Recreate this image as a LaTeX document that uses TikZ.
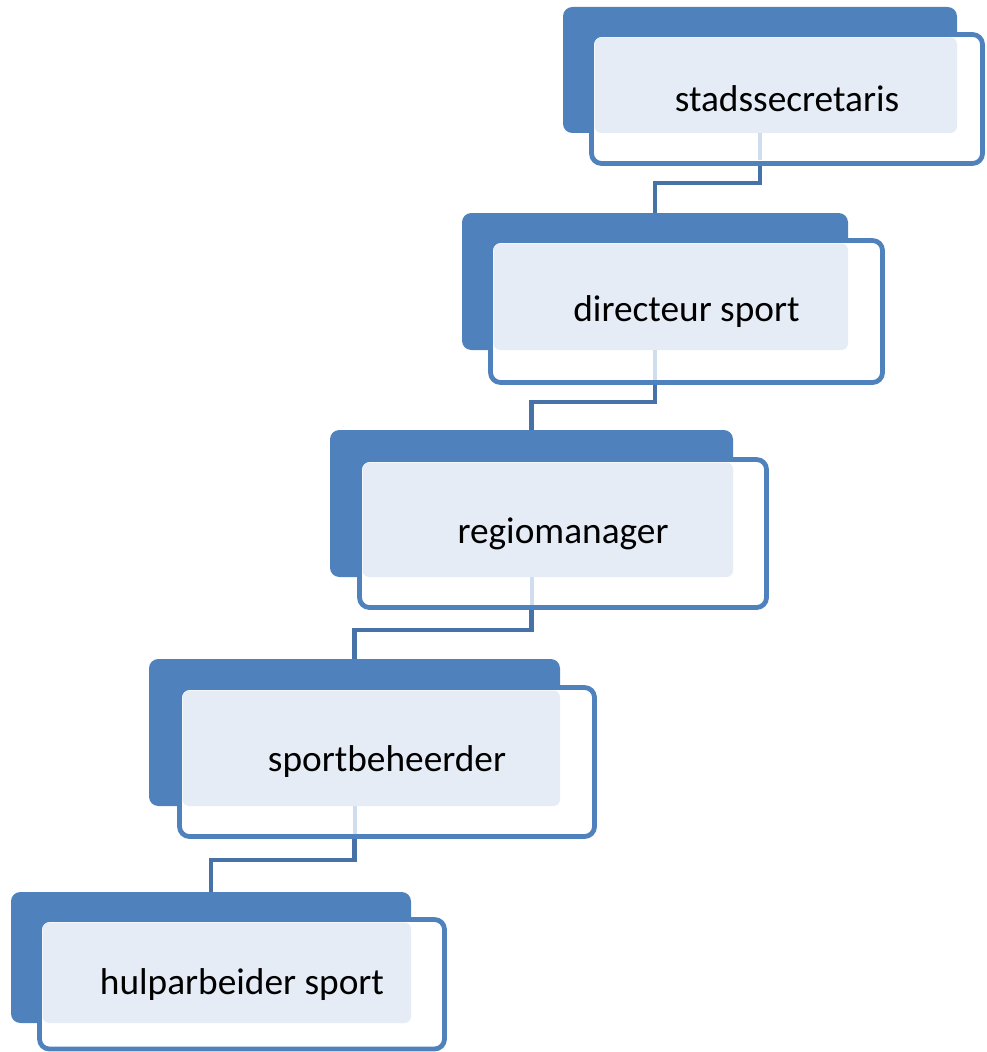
\documentclass[tikz,border=0pt]{standalone}
\usepackage{fontspec}
\setmainfont{Carlito}
\usetikzlibrary{fit,calc,backgrounds}
\definecolor{boxblue}{RGB}{79,129,189}
\definecolor{lineblue}{RGB}{70,114,168}
\definecolor{tintblue}{RGB}{229,236,246}
\definecolor{stubblue}{RGB}{208,221,238}

\begin{document}
\begin{tikzpicture}[x=0.75pt,y=-0.75pt]
\tikzstyle{backbox}=[fill=boxblue, rounded corners=7pt, inner sep=0pt, outer sep=0pt]
\tikzstyle{frontbox}=[draw=boxblue, fill=white, line width=3.6pt, rounded corners=7.5pt, inner sep=0pt, outer sep=0pt]
\tikzstyle{tint}=[fill=tintblue, rounded corners=5pt, inner sep=0pt, outer sep=0pt]
\tikzstyle{role}=[font=\fontsize{28}{34}\selectfont, inner sep=0pt]
\tikzstyle{conn}=[draw=lineblue, line width=3.6pt]
\tikzstyle{stub}=[draw=stubblue, line width=3pt]

\useasboundingbox (0,0) rectangle (986,1052);

\node[backbox, fit={(563,7) (957,133)}] (b1) {};
\node[frontbox, fit={(591.5,34.5) (982.5,163.5)}] (f1) {};
\node[tint, fit={($(f1.north west)+(3,3)$) (b1.south east)}] (t1) {};
\draw[stub] (b1.south) -- ($(b1.south |- f1.south)+(0,-3)$);
\node[role] (stadssecretaris) at (f1.center) {stadssecretaris};

\node[backbox, fit={(462,213) (848,350)}] (b2) {};
\node[frontbox, fit={(490.5,240.5) (882.5,382.5)}] (f2) {};
\node[tint, fit={($(f2.north west)+(3,3)$) (b2.south east)}] (t2) {};
\draw[stub] (b2.south) -- ($(b2.south |- f2.south)+(0,-3)$);
\node[role] (directeur) at (f2.center) {directeur sport};

\node[backbox, fit={(330,430) (733,577)}] (b3) {};
\node[frontbox, fit={(359.5,459.5) (766.5,607.5)}] (f3) {};
\node[tint, fit={($(f3.north west)+(3,3)$) (b3.south east)}] (t3) {};
\draw[stub] (b3.south) -- ($(b3.south |- f3.south)+(0,-3)$);
\node[role] (regiomanager) at (f3.center) {regiomanager};

\node[backbox, fit={(149,659) (560,806)}] (b4) {};
\node[frontbox, fit={(179.5,687.5) (594.5,836.5)}] (f4) {};
\node[tint, fit={($(f4.north west)+(3,3)$) (b4.south east)}] (t4) {};
\draw[stub] (b4.south) -- ($(b4.south |- f4.south)+(0,-3)$);
\node[role] (sportbeheerder) at (f4.center) {sportbeheerder};

\node[backbox, fit={(11,892) (411,1023)}] (b5) {};
\node[frontbox, fit={(39.5,919.5) (444.5,1049)}] (f5) {};
\node[tint, fit={($(f5.north west)+(3,3)$) (b5.south east)}] (t5) {};
\node[role] (hulparbeider) at (f5.center) {hulparbeider sport};

% elbow connectors behind the boxes
\begin{scope}[on background layer]
\coordinate (j1) at ($(b2.north)+(0,-30)$);
\coordinate (j2) at ($(b3.north)+(0,-28)$);
\coordinate (j3) at ($(b4.north)+(0,-29)$);
\coordinate (j4) at ($(b5.north)+(0,-32)$);
\draw[conn] (b1.south) |- (j1) -- (b2.north);
\draw[conn] (b2.south) |- (j2) -- (b3.north);
\draw[conn] (b3.south) |- (j3) -- (b4.north);
\draw[conn] (b4.south) |- (j4) -- (b5.north);
\end{scope}
\end{tikzpicture}
\end{document}
